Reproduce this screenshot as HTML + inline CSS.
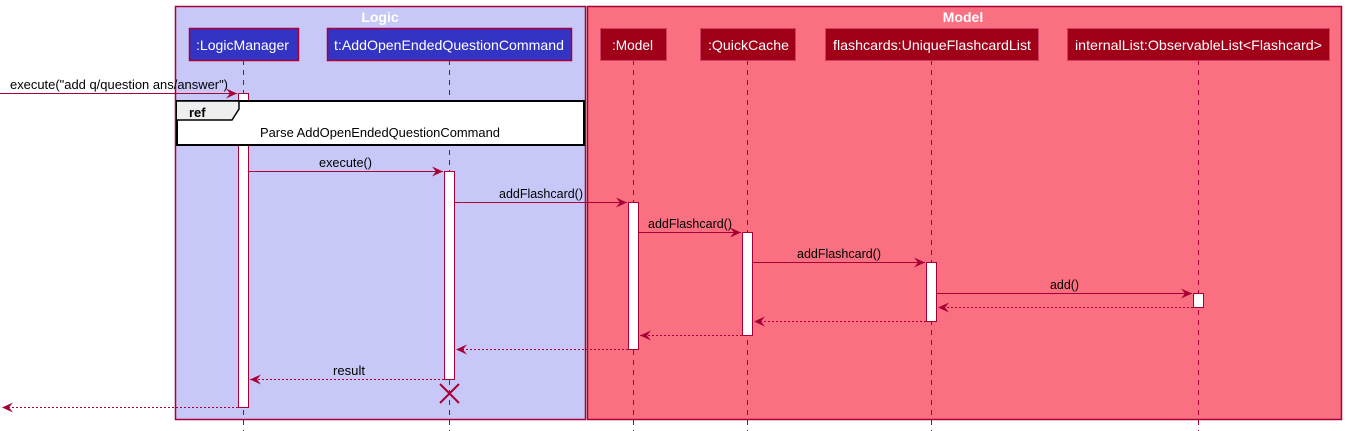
<!DOCTYPE html>
<html><head><meta charset="utf-8"><style>
html,body{margin:0;padding:0;background:#fff;}
svg{display:block;font-family:"Liberation Sans",sans-serif;}
</style></head><body>
<svg width="1347" height="431" viewBox="0 0 1347 431" xmlns="http://www.w3.org/2000/svg">
<defs>
<marker id="a" markerWidth="12" markerHeight="10" refX="11" refY="5" orient="auto" markerUnits="userSpaceOnUse">
<path d="M0,0 L11,5 L0,10 L4,5 Z" fill="#A80036"/>
</marker>
</defs>
<rect x="175.5" y="6.5" width="410" height="413" fill="#C8C8F8" stroke="#A80036" stroke-width="1.5"/>
<rect x="587.5" y="6.5" width="754" height="413" fill="#FA7080" stroke="#A80036" stroke-width="1.5"/>
<text x="380" y="22" text-anchor="middle" font-size="14" font-weight="bold" fill="#fff">Logic</text>
<text x="963" y="22" text-anchor="middle" font-size="14" font-weight="bold" fill="#fff">Model</text>
<g stroke="#A80036" stroke-dasharray="5,5" stroke-width="1">
<line x1="243.5" y1="60" x2="243.5" y2="431"/>
<line x1="449.5" y1="60" x2="449.5" y2="431"/>
<line x1="633.5" y1="60" x2="633.5" y2="431"/>
<line x1="747.5" y1="60" x2="747.5" y2="431"/>
<line x1="931.5" y1="60" x2="931.5" y2="431"/>
<line x1="1198.5" y1="60" x2="1198.5" y2="431"/>
</g>
<g font-size="14" fill="#fff">
<rect x="189.5" y="28.5" width="109" height="32" fill="#3333C4" stroke="#A80036" stroke-width="1.5"/>
<text x="196" y="50" textLength="93" lengthAdjust="spacingAndGlyphs">:LogicManager</text>
<rect x="327.5" y="28.5" width="244" height="32" fill="#3333C4" stroke="#A80036" stroke-width="1.5"/>
<text x="334" y="50" textLength="230" lengthAdjust="spacingAndGlyphs">t:AddOpenEndedQuestionCommand</text>
<rect x="600.5" y="28.5" width="66" height="32" fill="#A00018" stroke="#D04060" stroke-width="1"/>
<text x="612" y="50" textLength="41" lengthAdjust="spacingAndGlyphs">:Model</text>
<rect x="700.5" y="28.5" width="95" height="32" fill="#A00018" stroke="#D04060" stroke-width="1"/>
<text x="708" y="50" textLength="81" lengthAdjust="spacingAndGlyphs">:QuickCache</text>
<rect x="825.5" y="28.5" width="213" height="32" fill="#A00018" stroke="#D04060" stroke-width="1"/>
<text x="833" y="50" textLength="198" lengthAdjust="spacingAndGlyphs">flashcards:UniqueFlashcardList</text>
<rect x="1067.5" y="28.5" width="262" height="32" fill="#A00018" stroke="#D04060" stroke-width="1"/>
<text x="1075" y="50" textLength="247" lengthAdjust="spacingAndGlyphs">internalList:ObservableList&lt;Flashcard&gt;</text>
</g>
<g fill="#fff" stroke="#A80036" stroke-width="1">
<rect x="238.5" y="93.5" width="10" height="314"/>
<rect x="444.5" y="171.5" width="10" height="208"/>
<rect x="628.5" y="202.5" width="10" height="147"/>
<rect x="742.5" y="232.5" width="10" height="103"/>
<rect x="926.5" y="262.5" width="10" height="59"/>
<rect x="1193.5" y="293.5" width="10" height="14"/>
</g>
<rect x="177" y="101" width="407" height="44" fill="#fff" stroke="#000" stroke-width="2"/>
<path d="M177,101 L239,101 L239,109 L232,120 L177,120" fill="#EEEEEE" stroke="#000" stroke-width="1.5"/>
<text x="189" y="117" font-size="13" font-weight="bold">ref</text>
<text x="260" y="137" font-size="13" textLength="240" lengthAdjust="spacingAndGlyphs">Parse AddOpenEndedQuestionCommand</text>
<g stroke="#A80036" stroke-width="1" fill="none">
<line x1="0" y1="93.5" x2="237" y2="93.5" marker-end="url(#a)"/>
<line x1="249" y1="171.5" x2="443" y2="171.5" marker-end="url(#a)"/>
<line x1="455" y1="202.5" x2="627" y2="202.5" marker-end="url(#a)"/>
<line x1="639" y1="232.5" x2="741" y2="232.5" marker-end="url(#a)"/>
<line x1="753" y1="262.5" x2="925" y2="262.5" marker-end="url(#a)"/>
<line x1="937" y1="293.5" x2="1192" y2="293.5" marker-end="url(#a)"/>
<g stroke-dasharray="2,2">
<line x1="1193" y1="307.5" x2="938" y2="307.5" marker-end="url(#a)"/>
<line x1="926" y1="321.5" x2="754" y2="321.5" marker-end="url(#a)"/>
<line x1="742" y1="335.5" x2="640" y2="335.5" marker-end="url(#a)"/>
<line x1="628" y1="349.5" x2="456" y2="349.5" marker-end="url(#a)"/>
<line x1="444" y1="379.5" x2="250" y2="379.5" marker-end="url(#a)"/>
<line x1="238" y1="407.5" x2="2" y2="407.5" marker-end="url(#a)"/>
</g>
<path d="M440,384 L459,403 M459,384 L440,403" stroke-width="2"/>
</g>
<g font-size="13" fill="#000">
<text x="10" y="89" textLength="218" lengthAdjust="spacingAndGlyphs">execute("add q/question ans/answer")</text>
<text x="319" y="167" textLength="53" lengthAdjust="spacingAndGlyphs">execute()</text>
<text x="499" y="198" textLength="84" lengthAdjust="spacingAndGlyphs">addFlashcard()</text>
<text x="648" y="228" textLength="84" lengthAdjust="spacingAndGlyphs">addFlashcard()</text>
<text x="797" y="258" textLength="84" lengthAdjust="spacingAndGlyphs">addFlashcard()</text>
<text x="1050" y="289" textLength="29" lengthAdjust="spacingAndGlyphs">add()</text>
<text x="333" y="375" textLength="32" lengthAdjust="spacingAndGlyphs">result</text>
</g>
</svg>
</body></html>
